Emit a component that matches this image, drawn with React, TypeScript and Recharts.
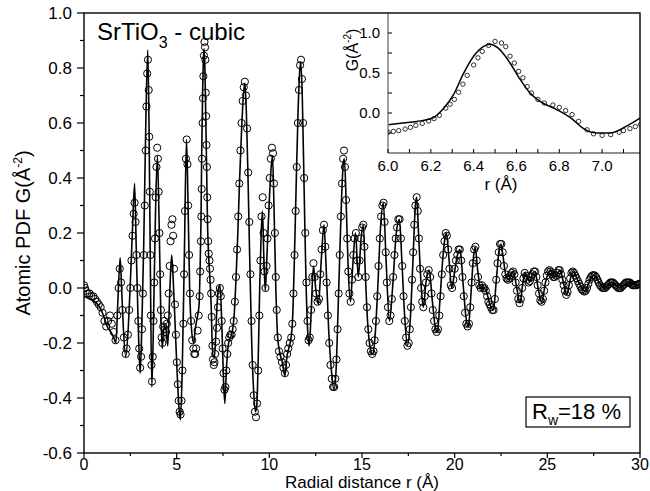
import React from 'react';
import { ComposedChart, Line, Scatter, XAxis, YAxis } from 'recharts';

const FONT = '"Liberation Sans", Arial, Helvetica, sans-serif';

// main panel axes
const xMajor = [0, 5, 10, 15, 20, 25, 30];
const xMinor = [2.5, 7.5, 12.5, 17.5, 22.5, 27.5];
const yMajor = [-0.6, -0.4, -0.2, 0, 0.2, 0.4, 0.6, 0.8, 1.0];
const yMinor = [-0.5, -0.3, -0.1, 0.1, 0.3, 0.5, 0.7, 0.9];

// inset axes
const insetXMajor = [6.0, 6.2, 6.4, 6.6, 6.8, 7.0];
const insetXMinor = [6.1, 6.3, 6.5, 6.7, 6.9, 7.1];
const insetYMajor = [0, 0.5, 1.0];
const insetYMinor = [-0.25, 0.25, 0.75];

// calculated PDF (solid line), [r, G]
const calcCurve: [number, number][] = [
  [0, -0.03], [0.3, -0.04], [0.6, -0.05], [0.85, -0.07], [1.05, -0.1], [1.25, -0.14], [1.45, -0.16], [1.6, -0.18],
  [1.72, -0.2], [1.82, -0.06], [1.95, 0.11], [2.03, 0.0], [2.12, -0.14], [2.25, -0.25],
  [2.4, -0.13], [2.5, 0.02], [2.62, 0.22], [2.73, 0.38], [2.82, 0.14], [2.92, -0.12], [3.03, -0.31], [3.12, -0.14],
  [3.22, 0.15], [3.33, 0.58], [3.44, 0.865], [3.51, 0.58], [3.58, 0.08], [3.66, -0.36],
  [3.76, -0.08], [3.86, 0.28], [3.96, 0.48], [4.05, 0.25], [4.14, -0.08], [4.22, -0.22],
  [4.32, -0.14], [4.42, -0.15], [4.52, -0.21], [4.62, -0.03], [4.73, 0.12], [4.82, 0.02], [4.92, -0.14],
  [5.02, -0.3], [5.12, -0.43], [5.2, -0.48], [5.3, -0.3], [5.42, 0.14], [5.53, 0.54], [5.61, 0.32], [5.7, 0.0],
  [5.8, -0.15], [5.92, -0.2], [6.0, -0.15], [6.13, -0.1], [6.21, -0.06], [6.26, 0.06], [6.31, 0.23], [6.35, 0.48],
  [6.4, 0.71], [6.45, 0.84], [6.48, 0.87], [6.52, 0.81], [6.57, 0.62], [6.62, 0.42], [6.66, 0.25], [6.71, 0.14],
  [6.79, 0.04], [6.87, -0.08], [6.91, -0.19], [6.97, -0.25], [7.04, -0.25], [7.11, -0.17], [7.18, -0.06],
  [7.26, 0.0], [7.34, 0.01], [7.44, -0.14], [7.53, -0.34], [7.6, -0.42], [7.68, -0.3], [7.78, -0.21], [7.9, -0.18],
  [8.0, -0.16], [8.1, -0.1], [8.2, 0.03], [8.3, 0.2], [8.4, 0.4], [8.5, 0.57], [8.6, 0.7], [8.68, 0.745],
  [8.76, 0.64], [8.85, 0.4], [8.95, 0.08], [9.05, -0.2], [9.15, -0.37], [9.25, -0.45], [9.32, -0.43],
  [9.4, -0.26], [9.48, 0.0], [9.56, 0.2], [9.63, 0.28], [9.7, 0.12], [9.78, -0.01], [9.88, 0.13], [10.0, 0.32],
  [10.1, 0.44], [10.17, 0.48], [10.25, 0.3], [10.35, 0.0], [10.45, -0.18], [10.58, -0.24], [10.7, -0.27], [10.84, -0.32],
  [10.95, -0.25], [11.05, -0.22], [11.15, -0.19], [11.25, -0.12], [11.35, 0.1], [11.45, 0.38], [11.55, 0.64],
  [11.64, 0.79], [11.7, 0.82], [11.78, 0.69], [11.88, 0.35], [11.98, 0.02], [12.08, -0.17], [12.15, -0.21],
  [12.25, -0.1], [12.38, 0.08], [12.5, 0.0], [12.65, -0.06], [12.8, 0.1], [12.95, 0.23], [13.05, 0.1], [13.2, -0.15],
  [13.35, -0.3], [13.49, -0.37], [13.6, -0.3], [13.7, -0.1], [13.8, 0.12], [13.9, 0.33], [14.0, 0.46], [14.05, 0.47],
  [14.15, 0.3], [14.25, 0.08], [14.38, -0.05], [14.5, 0.08], [14.65, 0.2], [14.8, 0.04], [14.95, 0.18], [15.07, 0.23],
  [15.18, 0.05], [15.3, -0.12], [15.45, -0.22], [15.58, -0.24], [15.7, -0.18], [15.85, 0.0], [16.0, 0.22], [16.15, 0.31],
  [16.3, 0.1], [16.48, -0.12], [16.65, 0.0], [16.85, 0.2], [17.02, 0.25], [17.15, 0.1], [17.3, -0.1], [17.45, -0.21],
  [17.6, -0.12], [17.75, 0.1], [17.88, 0.3], [17.95, 0.33], [18.05, 0.2], [18.2, 0.0], [18.31, -0.07], [18.45, 0.02],
  [18.62, 0.065], [18.8, -0.05], [18.95, -0.14], [19.07, -0.16], [19.2, -0.05], [19.35, 0.1], [19.5, 0.19], [19.56, 0.2],
  [19.7, 0.1], [19.84, 0.0], [20.0, 0.06], [20.15, 0.12], [20.29, 0.14], [20.45, 0.02], [20.6, -0.1], [20.74, -0.14],
  [20.9, 0.0], [21.0, 0.1], [21.1, 0.15], [21.25, 0.06], [21.4, 0.0], [21.55, 0.0], [21.7, -0.01], [21.9, -0.06],
  [22.09, -0.08], [22.25, 0.03], [22.4, 0.14], [22.5, 0.16], [22.6, 0.12], [22.75, 0.05], [22.9, 0.03], [23.05, 0.05],
  [23.17, 0.06], [23.35, 0.0], [23.53, -0.055], [23.68, 0.02], [23.8, 0.055], [23.95, 0.03], [24.05, 0.025], [24.2, 0.05],
  [24.34, 0.06], [24.5, 0.0], [24.7, -0.05], [24.9, 0.02], [25.15, 0.065], [25.4, 0.04], [25.69, 0.065], [25.87, 0.02],
  [26.05, -0.025], [26.2, 0.02], [26.37, 0.06], [26.7, 0.02], [27.04, -0.013], [27.3, 0.03], [27.52, 0.047], [27.8, 0.02],
  [28.1, 0.0], [28.5, 0.02], [28.9, 0.0], [29.4, 0.02], [29.8, 0.01], [30.0, 0.015],
];

// experimental PDF (open circles), [r, G]
const obsPoints: [number, number][] = [
  [0, 0.01], [0.05, 0.0], [0.1, -0.01], [0.2, -0.02], [0.3, -0.02], [0.4, -0.03], [0.5, -0.03], [0.6, -0.04],
  [0.7, -0.05], [0.8, -0.06], [0.9, -0.07], [1.0, -0.09], [1.1, -0.12], [1.2, -0.14], [1.3, -0.12], [1.4, -0.1],
  [1.5, -0.13], [1.6, -0.16], [1.7, -0.19], [1.8, -0.1], [1.87, 0.0], [1.93, 0.07], [2.0, 0.02], [2.07, -0.08],
  [2.15, -0.18], [2.25, -0.24], [2.3, -0.22], [2.37, -0.17], [2.44, -0.08], [2.5, 0.0], [2.56, 0.1], [2.62, 0.19],
  [2.68, 0.27], [2.73, 0.31], [2.78, 0.24], [2.83, 0.12], [2.88, 0.0], [2.93, -0.12], [2.98, -0.22], [3.03, -0.29],
  [3.08, -0.25], [3.13, -0.15], [3.18, -0.02], [3.23, 0.12], [3.28, 0.3], [3.33, 0.5], [3.37, 0.66], [3.41, 0.78],
  [3.45, 0.83], [3.49, 0.72], [3.52, 0.55], [3.55, 0.35], [3.58, 0.12], [3.61, -0.1], [3.64, -0.28], [3.67, -0.34],
  [3.71, -0.25], [3.75, -0.12], [3.79, 0.02], [3.83, 0.18], [3.87, 0.33], [3.91, 0.44], [3.95, 0.51], [3.99, 0.47],
  [4.03, 0.35], [4.07, 0.2], [4.11, 0.05], [4.15, -0.08], [4.19, -0.18], [4.23, -0.2], [4.27, -0.14], [4.32, -0.12],
  [4.37, -0.15], [4.42, -0.16], [4.47, -0.13], [4.52, -0.1], [4.57, -0.02], [4.62, 0.08], [4.67, 0.17], [4.72, 0.23],
  [4.77, 0.25], [4.81, 0.19], [4.86, 0.07], [4.91, -0.06], [4.96, -0.17], [5.01, -0.27], [5.06, -0.35], [5.11, -0.41],
  [5.16, -0.45], [5.21, -0.46], [5.26, -0.41], [5.31, -0.3], [5.36, -0.13], [5.4, 0.05], [5.45, 0.28], [5.5, 0.47],
  [5.54, 0.54], [5.58, 0.45], [5.62, 0.3], [5.67, 0.12], [5.72, -0.02], [5.78, -0.12], [5.84, -0.19], [5.9, -0.22],
  [5.95, -0.24], [6.0, -0.24], [6.05, -0.22], [6.13, -0.155], [6.19, -0.1], [6.24, -0.03], [6.27, 0.06], [6.31, 0.17],
  [6.33, 0.26], [6.35, 0.36], [6.37, 0.47], [6.4, 0.6], [6.42, 0.69], [6.44, 0.77], [6.47, 0.845], [6.5, 0.895],
  [6.53, 0.875], [6.55, 0.83], [6.57, 0.71], [6.59, 0.625], [6.61, 0.52], [6.63, 0.44], [6.65, 0.33], [6.67, 0.25],
  [6.7, 0.17], [6.73, 0.125], [6.77, 0.1], [6.8, 0.07], [6.83, 0.03], [6.86, -0.02], [6.89, -0.105], [6.93, -0.21],
  [6.96, -0.26], [7.0, -0.28], [7.04, -0.27], [7.08, -0.24], [7.13, -0.195], [7.18, -0.145], [7.23, -0.07], [7.28, -0.02],
  [7.33, 0.0], [7.38, -0.03], [7.43, -0.12], [7.48, -0.22], [7.53, -0.31], [7.58, -0.37], [7.63, -0.36], [7.68, -0.3],
  [7.73, -0.24], [7.78, -0.2], [7.84, -0.18], [7.9, -0.17], [7.96, -0.17], [8.02, -0.15], [8.08, -0.12], [8.14, -0.05],
  [8.2, 0.04], [8.26, 0.14], [8.32, 0.26], [8.38, 0.38], [8.44, 0.5], [8.5, 0.6], [8.56, 0.68], [8.62, 0.73],
  [8.68, 0.75], [8.74, 0.7], [8.8, 0.58], [8.86, 0.42], [8.92, 0.24], [8.98, 0.05], [9.04, -0.12], [9.1, -0.28],
  [9.16, -0.39], [9.22, -0.45], [9.28, -0.47], [9.34, -0.42], [9.4, -0.3], [9.46, -0.1], [9.52, 0.1], [9.58, 0.26],
  [9.64, 0.33], [9.69, 0.2], [9.74, 0.06], [9.79, 0.0], [9.85, 0.08], [9.9, 0.18], [9.96, 0.3], [10.02, 0.4],
  [10.08, 0.47], [10.14, 0.51], [10.2, 0.49], [10.25, 0.38], [10.3, 0.2], [10.35, 0.04], [10.4, -0.08], [10.46, -0.18],
  [10.52, -0.23], [10.6, -0.25], [10.68, -0.27], [10.76, -0.29], [10.84, -0.31], [10.9, -0.28], [10.96, -0.24], [11.02, -0.22],
  [11.1, -0.2], [11.18, -0.18], [11.24, -0.13], [11.3, -0.02], [11.36, 0.12], [11.42, 0.28], [11.48, 0.44], [11.54, 0.6],
  [11.6, 0.72], [11.66, 0.81], [11.71, 0.83], [11.76, 0.76], [11.82, 0.6], [11.88, 0.4], [11.94, 0.2], [12.0, 0.02],
  [12.06, -0.12], [12.12, -0.19], [12.18, -0.18], [12.25, -0.08], [12.32, 0.04], [12.38, 0.09], [12.45, 0.04], [12.52, -0.02],
  [12.6, -0.05], [12.68, -0.04], [12.75, 0.05], [12.82, 0.14], [12.89, 0.21], [12.95, 0.23], [13.02, 0.15], [13.09, 0.02],
  [13.16, -0.1], [13.23, -0.2], [13.3, -0.28], [13.37, -0.33], [13.44, -0.36], [13.5, -0.36], [13.56, -0.33], [13.62, -0.26],
  [13.68, -0.15], [13.74, -0.02], [13.8, 0.12], [13.86, 0.26], [13.92, 0.38], [13.98, 0.47], [14.03, 0.5], [14.08, 0.44],
  [14.14, 0.32], [14.2, 0.18], [14.26, 0.06], [14.32, -0.02], [14.39, -0.05], [14.46, 0.03], [14.53, 0.12], [14.6, 0.18],
  [14.67, 0.2], [14.74, 0.1], [14.8, 0.04], [14.87, 0.1], [14.94, 0.18], [15.01, 0.22], [15.07, 0.23], [15.13, 0.15],
  [15.2, 0.04], [15.27, -0.07], [15.34, -0.15], [15.41, -0.2], [15.48, -0.23], [15.55, -0.24], [15.62, -0.23], [15.68, -0.19],
  [15.75, -0.12], [15.82, -0.03], [15.89, 0.08], [15.96, 0.18], [16.03, 0.26], [16.1, 0.3], [16.16, 0.31], [16.22, 0.24],
  [16.28, 0.13], [16.34, 0.02], [16.4, -0.07], [16.47, -0.12], [16.54, -0.1], [16.61, -0.04], [16.68, 0.04], [16.75, 0.12],
  [16.82, 0.18], [16.89, 0.22], [16.96, 0.25], [17.03, 0.25], [17.1, 0.18], [17.17, 0.08], [17.24, -0.03], [17.31, -0.12],
  [17.38, -0.18], [17.45, -0.21], [17.52, -0.2], [17.58, -0.15], [17.64, -0.07], [17.7, 0.03], [17.76, 0.13], [17.82, 0.23],
  [17.88, 0.3], [17.95, 0.33], [18.01, 0.28], [18.07, 0.18], [18.13, 0.07], [18.19, 0.0], [18.25, -0.05], [18.31, -0.07],
  [18.38, -0.03], [18.45, 0.02], [18.52, 0.05], [18.6, 0.065], [18.68, 0.04], [18.75, -0.02], [18.82, -0.08], [18.89, -0.12],
  [18.96, -0.15], [19.03, -0.16], [19.1, -0.15], [19.17, -0.1], [19.24, -0.03], [19.31, 0.05], [19.38, 0.12], [19.45, 0.17],
  [19.52, 0.2], [19.58, 0.19], [19.65, 0.14], [19.72, 0.07], [19.79, 0.01], [19.86, 0.0], [19.93, 0.03], [20.0, 0.07],
  [20.07, 0.1], [20.14, 0.12], [20.21, 0.14], [20.28, 0.14], [20.35, 0.1], [20.42, 0.04], [20.49, -0.03], [20.56, -0.09],
  [20.63, -0.13], [20.7, -0.14], [20.77, -0.13], [20.84, -0.07], [20.91, 0.02], [20.98, 0.09], [21.05, 0.14], [21.12, 0.15],
  [21.19, 0.1], [21.26, 0.04], [21.33, 0.01], [21.4, 0.0], [21.47, 0.01], [21.54, 0.0], [21.61, 0.0], [21.68, -0.01],
  [21.75, -0.03], [21.82, -0.05], [21.89, -0.06], [21.96, -0.07], [22.03, -0.08], [22.1, -0.08], [22.17, -0.04], [22.24, 0.03],
  [22.31, 0.09], [22.38, 0.13], [22.45, 0.16], [22.52, 0.16], [22.59, 0.13], [22.66, 0.08], [22.73, 0.05], [22.8, 0.035],
  [22.87, 0.03], [22.94, 0.035], [23.01, 0.045], [23.08, 0.055], [23.15, 0.06], [23.22, 0.05], [23.29, 0.02], [23.36, -0.01],
  [23.43, -0.04], [23.5, -0.055], [23.57, -0.04], [23.64, 0.0], [23.71, 0.035], [23.78, 0.055], [23.85, 0.045], [23.92, 0.03],
  [23.99, 0.02], [24.06, 0.025], [24.13, 0.04], [24.2, 0.05], [24.27, 0.06], [24.34, 0.06], [24.41, 0.04], [24.48, 0.01],
  [24.55, -0.02], [24.62, -0.045], [24.69, -0.05], [24.76, -0.04], [24.83, -0.01], [24.9, 0.02], [24.97, 0.045], [25.04, 0.06],
  [25.11, 0.065], [25.18, 0.06], [25.25, 0.05], [25.32, 0.04], [25.39, 0.04], [25.46, 0.045], [25.53, 0.055], [25.6, 0.065],
  [25.67, 0.065], [25.74, 0.05], [25.81, 0.03], [25.88, 0.01], [25.95, -0.01], [26.02, -0.025], [26.09, -0.015], [26.16, 0.01],
  [26.23, 0.035], [26.3, 0.055], [26.37, 0.06], [26.44, 0.055], [26.51, 0.045], [26.58, 0.035], [26.65, 0.025], [26.72, 0.015],
  [26.79, 0.005], [26.86, -0.005], [26.93, -0.01], [27.0, -0.013], [27.07, -0.01], [27.14, 0.0], [27.21, 0.015], [27.28, 0.03],
  [27.35, 0.04], [27.42, 0.045], [27.49, 0.047], [27.56, 0.045], [27.63, 0.04], [27.7, 0.03], [27.77, 0.02], [27.84, 0.01],
  [27.91, 0.005], [27.98, 0.0], [28.05, 0.0], [28.12, 0.0], [28.19, 0.005], [28.26, 0.01], [28.33, 0.015], [28.4, 0.02],
  [28.47, 0.02], [28.54, 0.02], [28.61, 0.015], [28.68, 0.01], [28.75, 0.005], [28.82, 0.0], [28.89, 0.0], [28.96, 0.0],
  [29.03, 0.005], [29.1, 0.01], [29.17, 0.015], [29.24, 0.02], [29.31, 0.02], [29.38, 0.02], [29.45, 0.02], [29.52, 0.015],
  [29.59, 0.01], [29.66, 0.01], [29.73, 0.01], [29.8, 0.01], [29.87, 0.012], [29.94, 0.015], [30.0, 0.015],
];

// inset: zoom on the 6.5 A peak
const insetCalc: [number, number][] = [
  [6.0, -0.146], [6.07, -0.125], [6.135, -0.105], [6.21, -0.06], [6.26, 0.06], [6.306, 0.23], [6.35, 0.48], [6.4, 0.71],
  [6.445, 0.83], [6.477, 0.86], [6.515, 0.81], [6.57, 0.625], [6.617, 0.42], [6.663, 0.25], [6.71, 0.145], [6.79, 0.04],
  [6.865, -0.085], [6.91, -0.19], [6.974, -0.25], [7.036, -0.25], [7.11, -0.17], [7.18, -0.06],
];
const insetObs: [number, number][] = [
  [6.0, -0.24], [6.025, -0.23], [6.05, -0.22], [6.08, -0.2], [6.105, -0.18], [6.13, -0.155], [6.16, -0.13], [6.19, -0.1],
  [6.215, -0.07], [6.24, -0.03], [6.27, 0.06], [6.29, 0.11], [6.31, 0.17], [6.33, 0.26], [6.35, 0.36], [6.37, 0.47],
  [6.4, 0.6], [6.42, 0.69], [6.44, 0.77], [6.47, 0.845], [6.5, 0.895], [6.53, 0.875], [6.55, 0.83], [6.57, 0.71],
  [6.59, 0.625], [6.61, 0.52], [6.63, 0.44], [6.65, 0.33], [6.67, 0.25], [6.7, 0.17], [6.73, 0.125], [6.77, 0.1],
  [6.8, 0.07], [6.83, 0.03], [6.86, -0.02], [6.89, -0.105], [6.93, -0.21], [6.96, -0.26], [7.0, -0.28], [7.04, -0.27],
  [7.08, -0.24], [7.1, -0.22], [7.13, -0.195], [7.155, -0.17], [7.18, -0.145],
];

const toRows = (pts: [number, number][]) => pts.map(([r, g]) => ({ r, g }));
const isIn = (v: number, list: number[]) => list.some((m) => Math.abs(m - v) < 1e-6);

const MainXTick = (props: any) => {
  const { x, y, payload } = props;
  const major = isIn(payload.value, xMajor);
  return (
    <g>
      <line x1={x} x2={x} y1={y} y2={y + (major ? 5 : 3)} stroke="#000" strokeWidth={1.2} />
      {major && (
        <text x={x} y={y + 17} textAnchor="middle" fontSize={16} fontFamily={FONT} fill="#000">
          {payload.value}
        </text>
      )}
    </g>
  );
};

const MainYTick = (props: any) => {
  const { x, y, payload } = props;
  const major = isIn(payload.value, yMajor);
  return (
    <g>
      <line x1={x - (major ? 7 : 4)} x2={x} y1={y} y2={y} stroke="#000" strokeWidth={1.2} />
      {major && (
        <text x={x - 12} y={y} dy="0.36em" textAnchor="end" fontSize={17} fontFamily={FONT} fill="#000">
          {payload.value.toFixed(1)}
        </text>
      )}
    </g>
  );
};

const InsetXTick = (props: any) => {
  const { x, y, payload } = props;
  const major = isIn(payload.value, insetXMajor);
  return (
    <g>
      <line x1={x} x2={x} y1={y} y2={y - 4} stroke="#000" strokeWidth={1} />
      {major && (
        <text x={x} y={y + 18} textAnchor="middle" fontSize={15} fontFamily={FONT} fill="#000">
          {payload.value.toFixed(1)}
        </text>
      )}
    </g>
  );
};

const InsetYTick = (props: any) => {
  const { x, y, payload } = props;
  const major = isIn(payload.value, insetYMajor);
  return (
    <g>
      <line x1={x} x2={x + 4} y1={y} y2={y} stroke="#000" strokeWidth={1} />
      {major && (
        <text x={x - 8} y={y} dy="0.36em" textAnchor="end" fontSize={15} fontFamily={FONT} fill="#000">
          {payload.value.toFixed(1)}
        </text>
      )}
    </g>
  );
};

const ring = (r: number, w: number) => (p: any) =>
  <circle cx={p.cx} cy={p.cy} r={r} fill="none" stroke="#000" strokeWidth={w} />;

const sortNum = (a: number, b: number) => a - b;

export default function App() {
  const calcRows = toRows(calcCurve);
  const obsRows = toRows(obsPoints);
  const insetCalcRows = toRows(insetCalc);
  const insetObsRows = toRows(insetObs);

  return (
    <div style={{ position: 'absolute', left: 0, top: 0, width: 650, height: 491, background: '#fff', fontFamily: FONT }}>
      <div style={{ position: 'absolute', left: 0, top: 0 }}>
        <ComposedChart width={650} height={491} margin={{ top: 13, right: 10, bottom: 0, left: 0 }}>
          <XAxis
            type="number"
            dataKey="r"
            domain={[0, 30]}
            ticks={[...xMajor, ...xMinor].sort(sortNum)}
            interval={0}
            allowDataOverflow
            axisLine={false}
            tickLine={false}
            tickSize={0}
            tickMargin={0}
            height={38}
            tick={<MainXTick />}
          />
          <YAxis
            type="number"
            dataKey="g"
            domain={[-0.6, 1.0]}
            ticks={[...yMajor, ...yMinor].sort(sortNum)}
            interval={0}
            allowDataOverflow
            axisLine={false}
            tickLine={false}
            tickSize={0}
            tickMargin={0}
            width={84}
            tick={<MainYTick />}
          />
          <Scatter data={obsRows} dataKey="g" shape={ring(3.6, 1)} isAnimationActive={false} />
          <Line data={calcRows} dataKey="g" type="monotone" stroke="#000" strokeWidth={1.6} dot={false} isAnimationActive={false} />
        </ComposedChart>
      </div>

      <div style={{ position: 'absolute', left: 340, top: 0 }}>
        <ComposedChart width={310} height={200} margin={{ top: 13, right: 10, bottom: 0, left: 0 }}>
          <XAxis
            type="number"
            dataKey="r"
            domain={[6.0, 7.177]}
            ticks={[...insetXMajor, ...insetXMinor].sort(sortNum)}
            interval={0}
            allowDataOverflow
            axisLine={{ stroke: '#222', strokeWidth: 1.2 }}
            tickLine={false}
            tickSize={0}
            tickMargin={0}
            height={47}
            tick={<InsetXTick />}
          />
          <YAxis
            type="number"
            dataKey="g"
            domain={[-0.5, 1.25]}
            ticks={[...insetYMajor, ...insetYMinor].sort(sortNum)}
            interval={0}
            allowDataOverflow
            axisLine={{ stroke: '#888', strokeWidth: 1.6 }}
            tickLine={false}
            tickSize={0}
            tickMargin={0}
            width={48}
            tick={<InsetYTick />}
          />
          <Scatter data={insetObsRows} dataKey="g" shape={ring(2.2, 0.8)} isAnimationActive={false} />
          <Line data={insetCalcRows} dataKey="g" type="monotone" stroke="#000" strokeWidth={1.5} dot={false} isAnimationActive={false} />
        </ComposedChart>
      </div>

      <svg width={650} height={491} style={{ position: 'absolute', left: 0, top: 0, pointerEvents: 'none' }}>
        <rect x={84} y={13} width={556} height={440} fill="none" stroke="#000" strokeWidth={1.4} />
        <text x={97} y={40} fontSize={24} fontFamily={FONT} fill="#000">
          SrTiO<tspan dy={8} fontSize={16}>3</tspan>
          <tspan dy={-8} fontSize={24}> - cubic</tspan>
        </text>
        <text x={362} y={488} textAnchor="middle" fontSize={17} fontFamily={FONT} fill="#000">
          Radial distance r (Å)
        </text>
        <text transform="translate(30,233) rotate(-90)" textAnchor="middle" fontSize={20} fontFamily={FONT} fill="#000">
          Atomic PDF G(Å<tspan dy={-8} fontSize={12}>-2</tspan>
          <tspan dy={8} fontSize={20}>)</tspan>
        </text>
        <text x={501} y={190} textAnchor="middle" fontSize={17} fontFamily={FONT} fill="#000">
          r (Å)
        </text>
        <text transform="translate(358,50) rotate(-90)" textAnchor="middle" fontSize={16} fontFamily={FONT} fill="#000">
          G(Å<tspan dy={-7} fontSize={10}>-2</tspan>
          <tspan dy={7} fontSize={16}>)</tspan>
        </text>
        <rect x={526} y={397} width={104} height={30} fill="#fff" stroke="#000" strokeWidth={1.2} />
        <text x={532} y={419} fontSize={22} fontFamily={FONT} fill="#000">
          R<tspan dy={6} fontSize={14}>w</tspan>
          <tspan dy={-6} fontSize={22}>=18 %</tspan>
        </text>
      </svg>
    </div>
  );
}
